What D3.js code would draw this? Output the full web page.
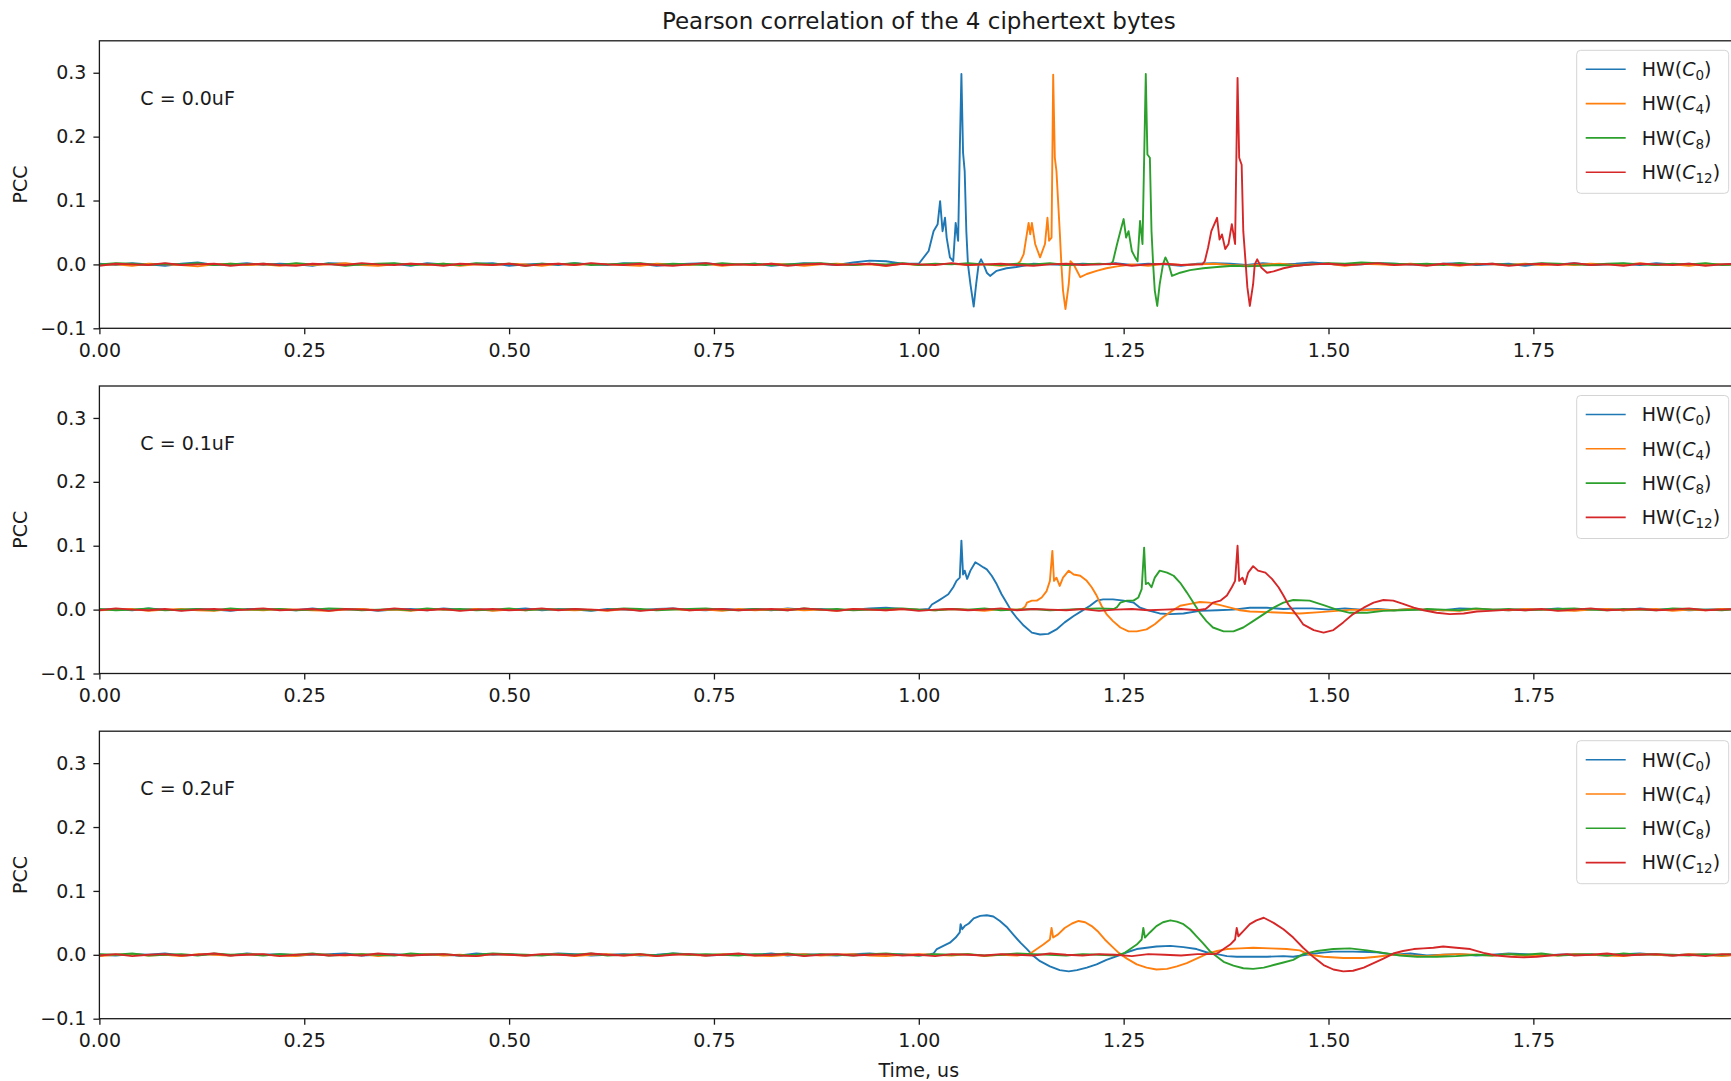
<!DOCTYPE html>
<html>
<head>
<meta charset="utf-8">
<script src="https://cdn.jsdelivr.net/npm/d3@7"></script>
<style>
  body { margin: 0; background: #fff; }
  text { font-family: "DejaVu Sans", sans-serif; fill: #1a1a1a; }
  .axis path, .axis line { stroke: #1a1a1a; }
  .axis text { font-size: 19px; fill: #1a1a1a; }
</style>
</head>
<body>
<div id="chart"></div>
<script>
// panel captions, legend names, colours, ticks
var capLabels = ["C = 0.0uF", "C = 0.1uF", "C = 0.2uF"];
var byteIdx = ["0", "4", "8", "12"];
var colors = ["#1f77b4", "#ff7f0e", "#2ca02c", "#d62728"];
var xTicks = [0, 0.25, 0.5, 0.75, 1.0, 1.25, 1.5, 1.75];
var yTicks = [-0.1, 0, 0.1, 0.2, 0.3];

// coarse time grid for the flat (noise) part of every trace, us
var gridT = [0,0.02,0.04,0.06,0.08,0.1,0.12,0.14,0.16,0.18,0.2,0.22,0.24,0.26,0.28,0.3,0.32,0.34,0.36,0.38,
  0.4,0.42,0.44,0.46,0.48,0.5,0.52,0.54,0.56,0.58,0.6,0.62,0.64,0.66,0.68,0.7,0.72,0.74,0.76,0.78,
  0.8,0.82,0.84,0.86,0.88,0.9,0.92,0.94,0.96,0.98,1,1.02,1.04,1.06,1.08,1.1,1.12,1.14,1.16,1.18,
  1.2,1.22,1.24,1.26,1.28,1.3,1.32,1.34,1.36,1.38,1.4,1.42,1.44,1.46,1.48,1.5,1.52,1.54,1.56,1.58,
  1.6,1.62,1.64,1.66,1.68,1.7,1.72,1.74,1.76,1.78,1.8,1.82,1.84,1.86,1.88,1.9,1.92,1.94,1.96,1.98,2];

// baseline values on gridT, in units of 0.001 PCC
var p1c0Base = [1,-1,2,0,-2,1,3,-1,0,2,-1,1,0,-2,2,1,-1,0,1,-2,2,0,-1,1,2,-2,0,1,-1,2,0,-1,2,1,-2,0,1,2,-1,0,1,-2,0,2,1,-1,3,6,5,1,0,2,-1,1,-2,0,2,1,0,-1,1,0,2,-1,1,0,-2,1,2,1,-1,2,0,1,3,1,-1,0,2,1,0,-1,1,2,-1,0,1,-2,1,0,2,-1,0,1,-1,2,0,1,-1,0,1];
var p1c4Base = [-1,0,-2,1,0,-1,-3,0,1,-1,0,-2,1,-1,0,2,-1,-2,0,1,-1,1,-2,0,-1,1,0,-2,1,-1,1,0,-1,-2,1,0,-1,1,-2,0,-1,1,0,-2,0,1,-1,0,-2,1,-1,0,1,-1,0,-2,1,0,-1,1,0,-1,1,0,-2,1,-1,0,1,-1,-2,0,1,-1,0,1,-2,1,0,-1,1,-1,0,-2,1,0,-1,1,-1,0,-1,1,0,-1,2,-1,0,-2,1,0,-1];
var p1c8Base = [0,2,1,-1,1,0,2,-1,1,0,1,-1,2,0,1,-2,0,1,2,-1,0,1,-1,2,0,1,-2,1,0,2,-1,0,1,2,-1,1,0,-1,2,0,1,-1,0,1,2,0,-1,1,0,2,-1,1,0,2,0,-1,1,0,2,-1,0,1,-1,-2,-3,-2,-1,-3,-2,-1,-3,-2,-1,-2,0,2,1,3,2,1,0,1,-1,2,0,1,-1,0,2,1,0,-1,1,2,0,-1,1,0,2,-1,0];
var p1c12Base = [-2,1,0,-1,2,-1,0,1,-2,0,1,-1,-2,1,0,-1,2,0,-1,1,0,-2,1,0,-1,1,-2,0,1,-1,2,0,-1,1,-1,-2,0,2,-1,0,-1,1,-2,0,1,-1,0,1,-2,1,0,-1,2,-1,0,1,-1,-2,0,1,-1,0,1,-2,0,1,-1,0,-1,-2,-1,-1,-2,-2,0,1,-1,0,2,-1,0,-2,1,-1,0,1,-2,0,1,-1,2,-1,0,-2,1,0,-1,1,-2,0,1];
var p2c0Base = [0,1,-1,2,0,-1,1,0,-2,1,1,0,-1,2,-1,0,1,-2,0,1,-1,2,0,1,-1,0,2,-1,1,0,-2,1,0,-1,1,2,0,-1,1,0,1,-1,2,0,1,-1,0,2,3,1,0,1,2,-1,0,1,-1,0,2,1,-1,0,1,2,0,-1,1,0,-1,1,0,2,-1,1,0,1,2,0,1,-1,1,0,-1,2,1,0,-1,1,0,2,-1,0,1,-1,2,0,1,-1,0,1,0];
var p2c4Base = [-1,0,1,-2,0,1,-1,-2,1,0,-1,1,0,-1,-2,0,1,-1,0,-2,1,0,-1,1,-2,0,-1,1,0,-1,0,-2,1,-1,0,1,-1,0,-2,1,-1,0,1,-1,0,-2,1,0,-1,1,0,-1,1,0,-2,1,0,-1,1,0,-1,0,-2,1,0,-1,1,0,-1,-2,0,-1,-3,-4,-3,-2,-1,-1,0,-1,1,0,-1,-2,1,0,-1,1,0,-1,-2,0,1,-1,0,1,-2,0,-1,1,0];
var p2c8Base = [1,-1,0,2,-1,0,1,-1,2,0,0,1,-1,0,2,1,-1,0,1,-1,2,0,1,-1,0,2,-1,1,0,1,-1,0,2,1,-1,0,1,2,0,-1,1,0,-1,2,0,1,-1,0,1,2,0,-1,1,0,2,-1,0,1,-1,0,1,2,0,-1,1,0,2,1,-1,0,1,-1,0,2,1,0,-1,1,0,2,-1,1,0,-1,2,0,1,-1,0,1,2,0,-1,1,0,-1,2,1,0,-1,1];
var p2c12Base = [-1,2,0,-1,1,-2,0,1,-1,0,2,-1,0,1,-2,1,0,-1,2,0,-1,1,-2,0,1,-1,0,2,-1,1,0,-1,1,-2,0,2,-1,0,1,-1,0,1,-1,2,0,-2,1,0,-1,1,-2,0,1,-1,0,2,-1,1,0,-1,1,-2,0,1,-1,0,1,-1,2,0,-1,0,1,-2,0,1,-1,0,2,-1,0,1,-2,0,-1,1,0,-1,1,-2,0,2,-1,0,1,-1,0,2,-1,0,1];
var p3c0Base = [0,-1,1,0,2,-1,0,1,-1,2,0,1,-1,0,1,2,-1,0,1,-1,1,0,-1,2,0,1,-1,0,2,1,-1,0,1,-1,0,2,1,-1,0,1,0,2,-1,1,0,-1,1,2,0,1,-1,0,1,0,-1,1,0,2,-1,1,0,-1,1,0,2,1,-1,0,1,-1,0,1,-1,2,0,1,-1,0,1,0,2,-1,0,1,-1,0,2,1,-1,0,1,0,-1,1,2,0,-1,1,0,-1,0];
var p3c4Base = [-2,0,1,-1,0,-2,1,0,-1,1,0,-1,-2,1,0,-1,1,-2,0,-1,1,-1,0,-2,1,0,-1,0,1,-2,0,1,-1,0,-2,1,0,-1,1,0,-1,-2,0,1,-1,0,1,-1,-2,0,1,0,-1,1,-2,0,-1,1,0,-1,-2,1,0,-1,1,0,-1,-2,1,0,-1,0,1,-1,-2,0,1,-1,0,1,-1,-2,0,1,0,-1,1,-2,0,-1,1,0,-1,-2,1,0,-1,1,0,-2,0];
var p3c8Base = [1,0,2,-1,0,1,-1,2,0,1,-1,1,0,2,-1,0,1,0,-1,2,0,1,-1,0,2,1,0,-1,1,0,2,-1,0,1,-1,2,0,1,0,-1,1,0,2,-1,1,0,-1,1,2,0,-1,1,0,1,-1,0,2,1,0,-1,1,0,-1,2,0,1,-1,0,1,2,0,-1,1,0,2,-1,1,0,-1,1,0,2,-1,1,0,-1,1,0,2,-1,0,1,-1,2,0,1,0,-1,1,0,2];
var p3c12Base = [-1,1,-2,0,1,-1,0,2,-1,0,1,-2,0,1,-1,0,-1,2,0,-1,0,1,-1,-2,1,0,-1,1,0,-1,2,0,-1,1,-2,0,1,-1,0,2,-1,0,1,-2,0,1,-1,0,1,-1,0,-2,1,0,-1,1,0,-1,2,0,-1,1,0,-2,1,0,-1,1,0,-1,0,2,-1,0,1,-2,0,1,-1,0,1,-1,0,2,-1,0,1,-2,0,1,-1,0,2,-1,0,1,-1,0,-2,1,0];

// active part of each trace: [time us, PCC]
var p1c0Detail = [[1.000,0.001],[1.012,0.021],[1.018,0.052],[1.023,0.063],[1.026,0.099],[1.029,0.052],[1.032,0.073],[1.034,0.042],[1.038,0.011],[1.042,0.005],[1.045,0.065],[1.048,0.037],[1.050,0.177],[1.052,0.298],[1.054,0.175],[1.056,0.146],[1.058,0.052],[1.060,0.000],[1.063,-0.031],[1.067,-0.066],[1.070,-0.031],[1.073,0.000],[1.076,0.008],[1.079,0.000],[1.083,-0.013],[1.087,-0.018],[1.095,-0.010],[1.107,-0.006],[1.119,-0.004],[1.132,-0.001]];
var p1c4Detail = [[1.120,0.000],[1.124,0.005],[1.128,0.016],[1.134,0.065],[1.136,0.047],[1.138,0.065],[1.142,0.032],[1.148,0.011],[1.154,0.032],[1.157,0.073],[1.159,0.037],[1.162,0.042],[1.164,0.297],[1.166,0.167],[1.168,0.146],[1.172,0.052],[1.174,0.000],[1.176,-0.041],[1.179,-0.070],[1.183,-0.031],[1.185,0.005],[1.189,0.000],[1.193,-0.010],[1.197,-0.020],[1.205,-0.015],[1.217,-0.010],[1.229,-0.006],[1.242,-0.003],[1.254,-0.001]];
var p1c8Detail = [[1.234,0.000],[1.237,0.005],[1.242,0.032],[1.246,0.052],[1.250,0.071],[1.253,0.042],[1.256,0.052],[1.260,0.021],[1.264,0.011],[1.267,0.005],[1.270,0.068],[1.273,0.032],[1.277,0.298],[1.279,0.172],[1.282,0.167],[1.284,0.052],[1.286,0.000],[1.288,-0.041],[1.291,-0.065],[1.294,-0.031],[1.298,0.000],[1.301,0.011],[1.305,0.000],[1.309,-0.018],[1.319,-0.013],[1.331,-0.009],[1.347,-0.006],[1.364,-0.004],[1.384,-0.002]];
var p1c12Detail = [[1.346,0.000],[1.349,0.005],[1.353,0.026],[1.357,0.052],[1.364,0.073],[1.367,0.039],[1.370,0.047],[1.374,0.024],[1.378,0.032],[1.382,0.063],[1.386,0.032],[1.389,0.292],[1.391,0.167],[1.394,0.156],[1.396,0.052],[1.399,0.000],[1.401,-0.036],[1.404,-0.065],[1.408,-0.031],[1.410,0.000],[1.413,0.008],[1.418,-0.005],[1.425,-0.013],[1.433,-0.011],[1.445,-0.006],[1.461,-0.002]];

var p2c0Detail = [[1.012,0.001],[1.016,0.008],[1.024,0.014],[1.030,0.019],[1.036,0.024],[1.042,0.035],[1.046,0.045],[1.050,0.050],[1.052,0.108],[1.054,0.055],[1.056,0.061],[1.059,0.048],[1.063,0.061],[1.069,0.074],[1.073,0.071],[1.079,0.066],[1.083,0.063],[1.089,0.053],[1.095,0.040],[1.101,0.024],[1.107,0.011],[1.113,-0.002],[1.119,-0.012],[1.128,-0.025],[1.138,-0.036],[1.148,-0.039],[1.158,-0.038],[1.168,-0.031],[1.178,-0.020],[1.189,-0.010],[1.199,-0.002],[1.209,0.006],[1.217,0.014],[1.225,0.016],[1.237,0.016],[1.250,0.014],[1.262,0.011],[1.270,0.003],[1.282,-0.002],[1.294,-0.006],[1.307,-0.007],[1.323,-0.006],[1.343,-0.002],[1.364,-0.001],[1.384,0.000],[1.404,0.003],[1.425,0.003],[1.445,0.001],[1.460,0.002],[1.480,0.002],[1.500,0.000]];
var p2c4Detail = [[1.126,0.001],[1.130,0.005],[1.132,0.011],[1.138,0.014],[1.144,0.014],[1.150,0.019],[1.156,0.029],[1.160,0.045],[1.163,0.092],[1.165,0.045],[1.168,0.050],[1.172,0.037],[1.176,0.050],[1.183,0.061],[1.189,0.055],[1.197,0.053],[1.205,0.045],[1.211,0.035],[1.217,0.022],[1.223,0.006],[1.229,-0.007],[1.237,-0.018],[1.246,-0.028],[1.256,-0.034],[1.266,-0.034],[1.278,-0.031],[1.288,-0.023],[1.298,-0.012],[1.309,-0.002],[1.319,0.006],[1.331,0.009],[1.343,0.012],[1.355,0.011],[1.368,0.007],[1.380,0.003],[1.392,-0.001],[1.404,-0.003],[1.425,-0.004],[1.445,-0.005],[1.465,-0.006],[1.490,-0.004],[1.510,-0.002],[1.530,0.000]];
var p2c8Detail = [[1.238,0.001],[1.242,0.004],[1.246,0.011],[1.254,0.014],[1.262,0.014],[1.268,0.019],[1.272,0.032],[1.275,0.097],[1.277,0.040],[1.280,0.042],[1.284,0.035],[1.288,0.050],[1.294,0.061],[1.303,0.058],[1.311,0.053],[1.319,0.042],[1.327,0.027],[1.335,0.011],[1.343,-0.005],[1.351,-0.018],[1.359,-0.028],[1.372,-0.034],[1.384,-0.034],[1.396,-0.028],[1.408,-0.018],[1.421,-0.007],[1.433,0.003],[1.445,0.011],[1.457,0.015],[1.477,0.014],[1.494,0.007],[1.510,0.000],[1.526,-0.005],[1.547,-0.005],[1.567,-0.002],[1.587,-0.001],[1.616,0.000]];
var p2c12Detail = [[1.350,0.001],[1.353,0.004],[1.359,0.011],[1.368,0.014],[1.376,0.022],[1.382,0.035],[1.386,0.045],[1.389,0.100],[1.391,0.045],[1.395,0.050],[1.398,0.040],[1.402,0.058],[1.408,0.068],[1.414,0.061],[1.423,0.058],[1.431,0.048],[1.439,0.035],[1.445,0.022],[1.451,0.008],[1.457,-0.002],[1.463,-0.012],[1.469,-0.023],[1.482,-0.032],[1.494,-0.036],[1.506,-0.032],[1.518,-0.020],[1.530,-0.007],[1.543,0.003],[1.555,0.011],[1.567,0.015],[1.579,0.014],[1.591,0.009],[1.604,0.003],[1.616,-0.001],[1.632,-0.005],[1.648,-0.007],[1.665,-0.006],[1.681,-0.003],[1.697,-0.002],[1.722,0.000]];

var p3c0Detail = [[1.014,0.001],[1.018,0.002],[1.022,0.009],[1.030,0.014],[1.038,0.019],[1.045,0.027],[1.050,0.035],[1.051,0.048],[1.053,0.040],[1.056,0.045],[1.061,0.049],[1.067,0.057],[1.075,0.061],[1.083,0.062],[1.091,0.060],[1.099,0.053],[1.107,0.044],[1.115,0.032],[1.124,0.019],[1.132,0.009],[1.140,-0.002],[1.148,-0.010],[1.160,-0.018],[1.172,-0.024],[1.183,-0.026],[1.193,-0.024],[1.205,-0.020],[1.217,-0.015],[1.229,-0.008],[1.242,-0.002],[1.254,0.004],[1.266,0.009],[1.278,0.011],[1.290,0.013],[1.307,0.014],[1.323,0.012],[1.339,0.009],[1.351,0.004],[1.364,0.001],[1.376,-0.002],[1.388,-0.003],[1.404,-0.003],[1.425,-0.003],[1.445,-0.002],[1.457,-0.003],[1.473,0.000],[1.490,0.003],[1.506,0.005],[1.530,0.005],[1.559,0.004],[1.580,0.000]];
var p3c4Detail = [[1.132,0.001],[1.136,0.002],[1.144,0.009],[1.152,0.016],[1.160,0.024],[1.162,0.042],[1.164,0.027],[1.170,0.032],[1.178,0.042],[1.187,0.049],[1.195,0.053],[1.203,0.051],[1.211,0.045],[1.219,0.036],[1.227,0.024],[1.235,0.014],[1.244,0.003],[1.254,-0.006],[1.266,-0.015],[1.278,-0.020],[1.290,-0.023],[1.303,-0.022],[1.315,-0.018],[1.327,-0.013],[1.339,-0.006],[1.351,0.001],[1.364,0.006],[1.376,0.009],[1.392,0.010],[1.408,0.011],[1.429,0.010],[1.449,0.009],[1.465,0.007],[1.477,0.000],[1.494,-0.003],[1.518,-0.005],[1.543,-0.005],[1.559,-0.003],[1.579,0.000]];
var p3c8Detail = [[1.246,0.001],[1.250,0.002],[1.258,0.009],[1.266,0.016],[1.272,0.024],[1.274,0.042],[1.276,0.027],[1.282,0.035],[1.290,0.045],[1.298,0.051],[1.307,0.054],[1.315,0.052],[1.323,0.048],[1.331,0.040],[1.339,0.029],[1.347,0.018],[1.355,0.006],[1.364,-0.003],[1.372,-0.011],[1.384,-0.017],[1.396,-0.021],[1.408,-0.022],[1.421,-0.020],[1.433,-0.016],[1.445,-0.012],[1.457,-0.008],[1.469,0.001],[1.486,0.006],[1.506,0.009],[1.526,0.010],[1.547,0.007],[1.567,0.003],[1.587,-0.001],[1.608,-0.003],[1.632,-0.003],[1.656,-0.002],[1.681,0.000]];
var p3c12Detail = [[1.360,0.001],[1.364,0.002],[1.372,0.009],[1.380,0.016],[1.386,0.024],[1.388,0.042],[1.390,0.029],[1.396,0.037],[1.404,0.048],[1.412,0.054],[1.421,0.058],[1.433,0.050],[1.445,0.040],[1.457,0.027],[1.469,0.011],[1.482,-0.004],[1.494,-0.016],[1.506,-0.023],[1.518,-0.026],[1.530,-0.025],[1.543,-0.020],[1.555,-0.013],[1.567,-0.006],[1.579,0.002],[1.591,0.006],[1.604,0.009],[1.616,0.010],[1.628,0.011],[1.640,0.013],[1.656,0.011],[1.673,0.009],[1.689,0.003],[1.705,-0.001],[1.722,-0.003],[1.738,-0.004],[1.754,-0.003],[1.770,-0.001],[1.791,0.001]];

var panels = [
  [[p1c0Base, p1c0Detail], [p1c4Base, p1c4Detail], [p1c8Base, p1c8Detail], [p1c12Base, p1c12Detail]],
  [[p2c0Base, p2c0Detail], [p2c4Base, p2c4Detail], [p2c8Base, p2c8Detail], [p2c12Base, p2c12Detail]],
  [[p3c0Base, p3c0Detail], [p3c4Base, p3c4Detail], [p3c8Base, p3c8Detail], [p3c12Base, p3c12Detail]]
];

var W = 1731, H = 1081;
var left = 99.4,
    plotW = 1638.8,   // x = 2.0 falls just past the right edge of the picture
    plotH = 287.5,
    tops = [40.8, 386, 731.2];

var xScale = d3.scaleLinear().domain([0, 2]).range([0, plotW]),
    yScale = d3.scaleLinear().domain([-0.1, 0.35]).range([plotH, 0]);

var line = d3.line()
    .x(function(d) { return xScale(d[0]); })
    .y(function(d) { return yScale(d[1]); });

// flat noise outside the active window, detail points inside it
function buildTrace(base, detail) {
  var t0 = detail[0][0], t1 = detail[detail.length - 1][0];
  var pts = [];
  gridT.forEach(function(t, i) {
    if (t < t0 || t > t1) pts.push([t, base[i] / 1000]);
  });
  detail.forEach(function(p) { pts.push(p); });
  pts.sort(function(a, b) { return a[0] - b[0]; });
  return pts;
}

var svg = d3.select("#chart").append("svg")
    .attr("width", W)
    .attr("height", H);

svg.append("rect").attr("width", W).attr("height", H).attr("fill", "#fff");

svg.append("defs").append("clipPath")
    .attr("id", "plotclip")
  .append("rect")
    .attr("width", plotW)
    .attr("height", plotH);

svg.append("text")
    .attr("x", left + xScale(1))
    .attr("y", 29)
    .attr("text-anchor", "middle")
    .style("font-size", "23px")
    .text("Pearson correlation of the 4 ciphertext bytes");

panels.forEach(function(traces, p) {
  var g = svg.append("g")
      .attr("transform", "translate(" + left + "," + tops[p] + ")");

  var plot = g.append("g").attr("clip-path", "url(#plotclip)");

  traces.forEach(function(tr, k) {
    plot.append("path")
        .datum(buildTrace(tr[0], tr[1]))
        .attr("fill", "none")
        .attr("stroke", colors[k])
        .attr("stroke-width", 1.9)
        .attr("stroke-linejoin", "round")
        .attr("d", line);
  });

  // frame
  g.append("rect")
      .attr("width", plotW)
      .attr("height", plotH)
      .attr("fill", "none")
      .attr("stroke", "#1a1a1a")
      .attr("stroke-width", 1.3);

  g.append("g")
      .attr("class", "axis")
      .attr("transform", "translate(0," + plotH + ")")
      .call(d3.axisBottom(xScale).tickValues(xTicks).tickFormat(d3.format(".2f"))
            .tickSize(6).tickPadding(9).tickSizeOuter(0))
      .call(function(a) { a.select(".domain").remove(); });

  g.append("g")
      .attr("class", "axis")
      .call(d3.axisLeft(yScale).tickValues(yTicks).tickFormat(d3.format(".1f"))
            .tickSize(6).tickPadding(7).tickSizeOuter(0))
      .call(function(a) { a.select(".domain").remove(); });

  g.selectAll(".axis .tick line").attr("stroke-width", 1.3);

  g.append("text")
      .attr("transform", "translate(" + (20 - left) + "," + (plotH / 2) + ") rotate(-90)")
      .attr("text-anchor", "middle")
      .attr("dy", "0.35em")
      .style("font-size", "19px")
      .text("PCC");

  g.append("text")
      .attr("x", xScale(0.05))
      .attr("y", yScale(0.25))
      .style("font-size", "19px")
      .text(capLabels[p]);

  // legend, upper right
  var lgW = 152, lgH = 143;
  var lg = g.append("g")
      .attr("transform", "translate(" + (plotW - 9.5 - lgW) + ",9.5)");

  lg.append("rect")
      .attr("width", lgW)
      .attr("height", lgH)
      .attr("rx", 4)
      .attr("fill", "#fff")
      .attr("fill-opacity", 0.8)
      .attr("stroke", "#d4d4d4");

  byteIdx.forEach(function(b, k) {
    var yy = 19 + k * 34.3;
    lg.append("line")
        .attr("x1", 9).attr("x2", 49)
        .attr("y1", yy).attr("y2", yy)
        .attr("stroke", colors[k])
        .attr("stroke-width", 1.6);
    var t = lg.append("text")
        .attr("x", 65)
        .attr("y", yy)
        .attr("dy", "0.36em")
        .style("font-size", "19px");
    t.append("tspan").text("HW(");
    t.append("tspan").style("font-style", "italic").text("C");
    t.append("tspan").attr("dy", 4).style("font-size", "13.5px").text(b);
    t.append("tspan").attr("dy", -4).text(")");
  });
});

svg.append("text")
    .attr("x", left + xScale(1))
    .attr("y", 1077)
    .attr("text-anchor", "middle")
    .style("font-size", "19px")
    .text("Time, us");
</script>
</body>
</html>
